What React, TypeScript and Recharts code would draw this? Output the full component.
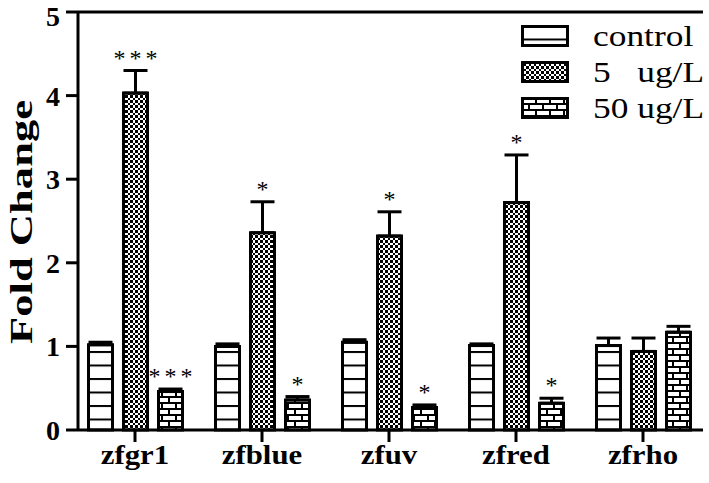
import { BarChart, Bar, XAxis, YAxis, ErrorBar, LabelList, ReferenceLine } from "recharts";

const categories = ["zfgr1", "zfblue", "zfuv", "zfred", "zfrho"];
const control = [1.02, 1.0, 1.05, 1.01, 1.01];
const controlErr = [0.03, 0.03, 0.03, 0.02, 0.09];
const low = [4.03, 2.36, 2.32, 2.72, 0.94];
const lowErr = [0.27, 0.37, 0.29, 0.57, 0.16];
const high = [0.46, 0.36, 0.27, 0.32, 1.17];
const highErr = [0.03, 0.04, 0.03, 0.06, 0.07];
const lowStars = ["***", "*", "*", "*", ""];
const highStars = ["***", "*", "*", "*", ""];
const yTicks = [0, 1, 2, 3, 4, 5];

const series = [
  { key: "control", name: "control", fill: "url(#hlines)" },
  { key: "low", name: "5   ug/L", fill: "url(#checker)" },
  { key: "high", name: "50 ug/L", fill: "url(#brick)" },
];

const data = categories.map((c, i) => ({
  name: c,
  control: control[i],
  controlErr: [0, controlErr[i]],
  low: low[i],
  lowErr: [0, lowErr[i]],
  high: high[i],
  highErr: [0, highErr[i]],
}));

const FONT = "'Liberation Serif', 'Times New Roman', serif";

function starLabel(stars: string[], errs: number[], vals: number[]) {
  return (props: any) => {
    const { x, y, width, height, index } = props;
    const s = stars[index];
    if (!s) return null;
    const pxPerUnit = height / vals[index];
    const top = y - errs[index] * pxPerUnit;
    const multi = s.length > 1;
    return (
      <text
        x={x + width / 2 + (multi ? 2 : 0)}
        y={top - 5}
        textAnchor="middle"
        fontSize={24}
        letterSpacing={multi ? 4 : 0}
        fontFamily={FONT}
        fill="#000"
      >
        {s}
      </text>
    );
  };
}

function XTick(props: any) {
  const { x, y, payload } = props;
  return (
    <text
      transform={`translate(${x},${y}) scale(1.1,1)`}
      dy="0.71em"
      textAnchor="middle"
      fontSize={28}
      fontWeight={700}
      fontFamily={FONT}
      fill="#000"
    >
      {payload.value}
    </text>
  );
}

function Legend() {
  return (
    <div style={{ position: "absolute", left: 521, top: 18, fontFamily: FONT, fontSize: 29, lineHeight: "36px" }}>
      {series.map((s) => (
        <div key={s.key} style={{ display: "flex", alignItems: "center", height: 36 }}>
          <svg width={48} height={22} style={{ marginRight: 24 }}>
            <rect x={1.5} y={1.5} width={45} height={19} fill={s.fill} stroke="#000" strokeWidth={3} />
          </svg>
          <span style={{ whiteSpace: "pre", display: "inline-block", transform: "scaleX(1.22)", transformOrigin: "left center" }}>
            {s.name}
          </span>
        </div>
      ))}
    </div>
  );
}

export default function App() {
  return (
    <div style={{ position: "absolute", left: 0, top: 0, width: 709, height: 483, background: "#fff" }}>
      <BarChart
        width={709}
        height={483}
        data={data}
        margin={{ top: 12, right: 6, bottom: 0, left: 0 }}
        barSize={24}
        barGap={11}
      >
        <defs>
          <pattern id="hlines" patternUnits="userSpaceOnUse" width={6} height={13.5}>
            <rect width={6} height={13.5} fill="#fff" />
            <rect y={0} width={6} height={2} fill="#000" />
          </pattern>
          <pattern id="checker" patternUnits="userSpaceOnUse" width={5} height={5}>
            <rect width={5} height={5} fill="#fff" />
            <rect width={2.5} height={2.5} fill="#000" shapeRendering="crispEdges" />
            <rect x={2.5} y={2.5} width={2.5} height={2.5} fill="#000" shapeRendering="crispEdges" />
          </pattern>
          <pattern id="brick" patternUnits="userSpaceOnUse" width={14} height={12}>
            <rect width={14} height={12} fill="#fff" />
            <rect y={0} width={14} height={2} fill="#000" />
            <rect y={6} width={14} height={2} fill="#000" />
            <rect x={0} y={0} width={2} height={6} fill="#000" />
            <rect x={7} y={6} width={2} height={6} fill="#000" />
          </pattern>
        </defs>
        <XAxis
          dataKey="name"
          height={53}
          padding={{ left: -6.5, right: -3.5 }}
          axisLine={{ stroke: "#000", strokeWidth: 3 }}
          tickLine={{ stroke: "#000", strokeWidth: 3 }}
          tickSize={12}
          tick={<XTick />}
        />
        <YAxis
          width={78}
          domain={[0, 5]}
          ticks={yTicks}
          axisLine={{ stroke: "#000", strokeWidth: 3 }}
          tickLine={{ stroke: "#000", strokeWidth: 3 }}
          tickSize={12}
          tickMargin={6}
          tick={{ fill: "#000", fontSize: 28, fontWeight: 700, fontFamily: FONT }}
          label={{
            content: () => (
              <text
                transform="translate(32,222) rotate(-90)"
                textAnchor="middle"
                fontSize={32}
                fontWeight={700}
                fontFamily={FONT}
                textLength={244}
                lengthAdjust="spacingAndGlyphs"
                fill="#000"
              >
                Fold Change
              </text>
            ),
          }}
        />
        <YAxis
          yAxisId="r"
          orientation="right"
          width={0}
          domain={[0, 5]}
          tick={false}
          tickLine={false}
          axisLine={{ stroke: "#000", strokeWidth: 3 }}
        />
        <ReferenceLine y={5} stroke="#000" strokeWidth={3} />
        <Bar dataKey="control" name="control" fill="url(#hlines)" stroke="#000" strokeWidth={3} isAnimationActive={false}>
          <ErrorBar dataKey="controlErr" width={12} stroke="#000" strokeWidth={3} direction="y" />
        </Bar>
        <Bar dataKey="low" name="5   ug/L" fill="url(#checker)" stroke="#000" strokeWidth={3} isAnimationActive={false}>
          <ErrorBar dataKey="lowErr" width={12} stroke="#000" strokeWidth={3} direction="y" />
          <LabelList dataKey="low" content={starLabel(lowStars, lowErr, low)} />
        </Bar>
        <Bar dataKey="high" name="50 ug/L" fill="url(#brick)" stroke="#000" strokeWidth={3} isAnimationActive={false}>
          <ErrorBar dataKey="highErr" width={12} stroke="#000" strokeWidth={3} direction="y" />
          <LabelList dataKey="high" content={starLabel(highStars, highErr, high)} />
        </Bar>
      </BarChart>
      <Legend />
    </div>
  );
}
